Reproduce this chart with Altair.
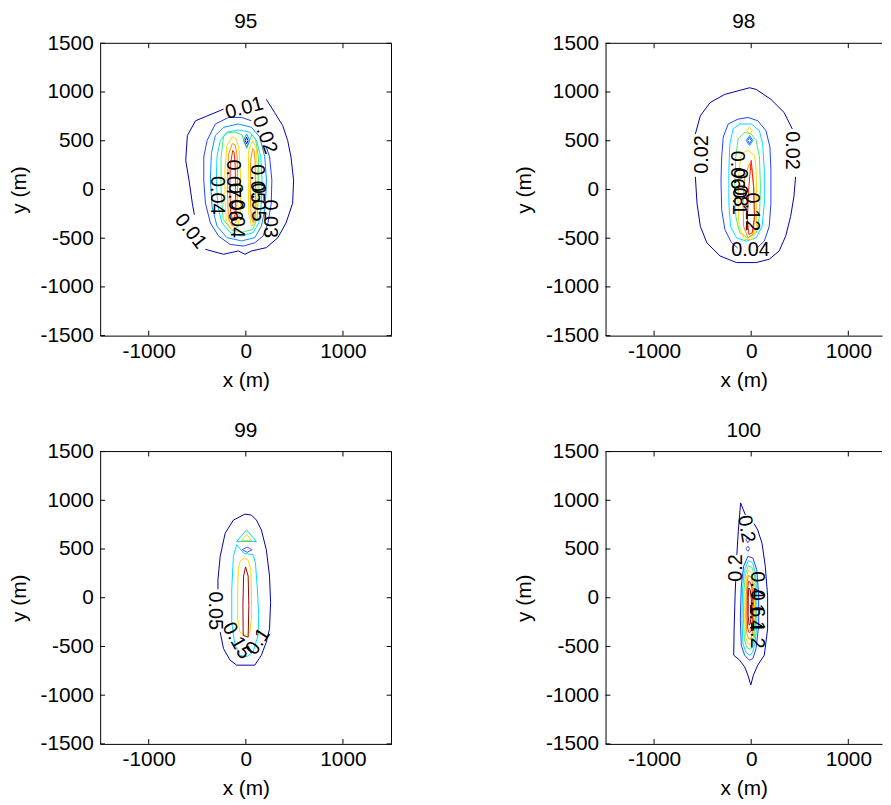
import altair as alt
import pandas as pd

FONT = "Liberation Sans"

# ---------------- axes ----------------
X_TICKS = [-1000, 0, 1000]
Y_TICKS = [-1500, -1000, -500, 0, 500, 1000, 1500]
TITLES = ["95", "98", "99", "100"]

# ---------------- colours (jet-like) ----------------
DB, B, LB, C, G, Y, O, R, DR = ("#0000a8", "#2040ff", "#0090ff", "#00dcff",
                                 "#40f070", "#ffd800", "#ff8c00", "#ff2000", "#a00000")

# ---------------- panel 95 (levels 0.01 ... 0.08) ----------------
P95_CONTOURS = [
    (DB, False, [(-230, 824), (-518, 705), (-602, 553), (-619, 299), (-585, 96), (-551, -141), (-530, -260)]),
    (DB, False, [(-416, -614), (-230, -665), (-77, -631), (-9, -665), (58, -631), (211, -597), (329, -496),
                 (414, -344), (482, -141), (492, 96), (465, 333), (431, 502), (380, 655), (296, 790), (211, 925)]),
    (B, False, [(211, 435), (245, 333), (268, 96), (262, -141), (228, -344), (177, -479), (92, -547),
                (-26, -581), (-162, -564), (-280, -479), (-365, -344), (-416, -141), (-433, 96), (-433, 333),
                (-399, 502), (-314, 672), (-179, 739), (-43, 739), (58, 705)]),
    (LB, True, [(-229, 638), (-314, 554), (-355, 368), (-365, 98), (-348, -173), (-297, -376), (-195, -494),
                (-43, -528), (93, -494), (161, -376), (201, -173), (212, 98), (195, 334), (144, 537), (59, 638),
                (-77, 672)]),
    (C, True, [(-195, 588), (-263, 503), (-297, 334), (-304, 98), (-287, -173), (-246, -342), (-161, -443),
               (-43, -477), (76, -443), (134, -342), (161, -139), (167, 98), (154, 334), (110, 503), (42, 588),
               (-77, 611)]),
    (G, True, [(-230, 540), (-255, 330), (-255, 0), (-235, -300), (-150, -410), (-40, -440), (70, -410),
               (115, -300), (135, 0), (130, 330), (100, 520), (60, 560), (10, 420), (-40, 560), (-110, 590),
               (-190, 580)]),
    (Y, True, [(-140, 540), (-195, 450), (-215, 200), (-215, -100), (-200, -330), (-140, -420), (-80, -380),
               (-55, -200), (-55, 150), (-70, 420), (-100, 520)]),
    (Y, True, [(70, 500), (30, 400), (25, 100), (30, -250), (60, -380), (95, -330), (115, -100), (118, 200),
               (110, 420)]),
    (O, True, [(-140, 470), (-180, 350), (-190, 0), (-180, -300), (-140, -380), (-100, -330), (-85, 0),
               (-90, 350), (-110, 460)]),
    (O, True, [(70, 420), (50, 300), (45, 0), (55, -280), (75, -340), (95, -260), (100, 0), (95, 300), (85, 400)]),
    (R, True, [(-135, 400), (-160, 250), (-165, 0), (-155, -250), (-130, -320), (-110, -250), (-105, 0),
               (-110, 250), (-120, 380)]),
    (LB, True, [(8, 570), (40, 502), (8, 434), (-24, 502)]),
    (DB, True, [(8, 535), (22, 502), (8, 469), (-6, 502)]),
]
P95_LABELS = [
    ("0.01", -16, 834, 345), ("0.01", -568, -428, 52), ("0.02", 194, 560, 70), ("0.03", 245, -300, 90),
    ("0.04", -300, -60, 90), ("0.04", -95, -300, 90), ("0.07", -135, 110, 90), ("0.06", -110, -130, 90),
    ("0.05", 115, 60, 90), ("0.05", 120, -130, 90),
]

# ---------------- panel 98 (levels 0.02 ... 0.14) ----------------
P98_CONTOURS = [
    (DB, False, [(423, 621), (339, 790), (203, 925), (51, 1027), (-17, 1044), (-271, 976), (-423, 892),
                 (-524, 756), (-575, 570)]),
    (DB, False, [(-575, 130), (-558, -141), (-524, -378), (-457, -547), (-321, -682), (-152, -750), (51, -750),
                 (186, -716), (288, -631), (355, -479), (406, -276), (440, -73), (457, 130)]),
    (B, False, [(60, -600), (135, -530), (186, -378), (203, -141), (203, 198), (193, 435), (152, 604), (68, 705),
                (-34, 739), (-135, 722), (-237, 672), (-288, 536), (-304, 333), (-311, 96), (-304, -208),
                (-271, -411), (-203, -547), (-140, -600)]),
    (C, True, [(-118, 672), (-186, 621), (-220, 468), (-230, 198), (-230, -141), (-213, -378), (-152, -496),
               (-51, -530), (51, -496), (112, -378), (135, -141), (135, 198), (118, 468), (84, 604), (0, 672)]),
    (G, True, [(-68, 587), (-135, 519), (-159, 333), (-169, 28), (-159, -276), (-118, -445), (-34, -496),
               (51, -445), (85, -276), (95, 28), (85, 333), (51, 502), (0, 570)]),
    (Y, True, [(-34, 401), (-101, 367), (-125, 198), (-135, -141), (-125, -378), (-68, -513), (17, -513),
               (51, -378), (58, -141), (51, 198), (34, 350)]),
    (Y, True, [(-17, 640), (10, 604), (-17, 570), (-44, 604)]),
    (O, True, [(-17, 266), (-68, 130), (-84, -141), (-78, -378), (-34, -496), (17, -462), (34, -310), (27, 28),
               (10, 198)]),
    (R, True, [(0, 299), (-24, 28), (-40, -310), (-24, -462), (10, -445), (34, -276), (24, 28)]),
    (LB, True, [(-17, 552), (18, 502), (-17, 452), (-52, 502)]),
    (B, True, [(-17, 532), (3, 502), (-17, 472), (-37, 502)]),
]
P98_LABELS = [
    ("0.02", -507, 360, 270), ("0.02", 423, 400, 90), ("0.04", -8, -621, 0), ("0.06", -150, 200, 90),
    ("0.08", -120, 20, 90), ("0.1", -130, -120, 90), ("0.12", 10, -230, 90),
]

# ---------------- panel 99 (levels 0.05 ... 0.2) ----------------
P99_CONTOURS = [
    (DB, False, [(-287, 87), (-287, 188), (-264, 425), (-213, 662), (-128, 797), (-10, 858), (58, 848),
                 (109, 797), (160, 696), (211, 493), (244, 222), (255, -49), (244, -319), (211, -455),
                 (160, -590), (92, -692), (-94, -692), (-162, -641), (-230, -522), (-264, -353)]),
    (C, True, [(-94, 544), (-128, 425), (-145, 87), (-145, -252), (-111, -488), (-60, -590), (7, -607),
               (75, -556), (126, -387), (133, -184), (119, 87), (99, 358), (75, 442), (-20, 455)]),
    (C, True, [(7, 696), (109, 577), (-94, 577)]),
    (Y, True, [(7, 652), (58, 588), (-43, 588)]),
    ("#5050ff", True, [(14, 520), (65, 493), (14, 466), (-37, 493)]),
    (Y, True, [(-16, 408), (-60, 374), (-77, 290), (-84, 87), (-84, -218), (-60, -353), (-10, -387),
               (41, -353), (58, -218), (58, 87), (51, 290), (24, 385)]),
    (DR, True, [(-3, 317), (-23, 222), (-30, -82), (-27, -387), (24, -404), (31, -82), (24, 222)]),
]
P99_LABELS = [("0.05", -323, -133, 90), ("0.15", -95, -440, 61), ("0.1", 125, -450, 304)]

# ---------------- panel 100 (levels 0.2 ... 1.6) ----------------
P100_CONTOURS = [
    (DB, False, [(-60, 850), (-109, 973), (-132, 695), (-148, 440)]),
    (DB, False, [(-160, 170), (-166, 19), (-176, -320), (-180, -590), (-119, -641), (-68, -709), (-34, -794),
                 (-4, -895), (23, -794), (67, -692), (135, -590), (169, -320), (169, 19), (145, 323),
                 (111, 560), (67, 695), (30, 760)]),
    ("#5050ff", True, [(-34, 625), (-15, 594), (-34, 563), (-53, 594)]),
    ("#5050ff", True, [(-34, 530), (-15, 503), (-34, 476), (-53, 503)]),
    (B, True, [(-34, 425), (-78, 323), (-102, 120), (-112, -218), (-102, -489), (-68, -590), (-17, -641),
               (17, -624), (50, -523), (77, -286), (77, 19), (57, 289), (17, 408)]),
    (C, True, [(-30, 380), (-70, 280), (-88, 100), (-95, -220), (-85, -470), (-55, -560), (-15, -590),
               (15, -560), (40, -460), (58, -280), (58, 0), (45, 250), (15, 360)]),
    (G, True, [(-30, 330), (-58, 240), (-75, 80), (-80, -220), (-70, -430), (-45, -510), (-10, -530),
               (15, -500), (32, -420), (45, -260), (45, 0), (35, 220), (10, 310)]),
    (Y, True, [(-30, 280), (-48, 200), (-62, 60), (-66, -220), (-58, -400), (-35, -470), (-8, -480),
               (12, -450), (25, -380), (33, -240), (33, 0), (25, 180), (5, 260)]),
    (O, True, [(-30, 230), (-42, 150), (-50, 30), (-54, -200), (-46, -360), (-28, -420), (-8, -425),
               (8, -390), (18, -330), (24, -200), (24, 0), (15, 140), (0, 210)]),
    (R, True, [(-28, 170), (-36, 90), (-40, -30), (-42, -200), (-35, -320), (-20, -360), (-6, -350),
               (6, -300), (14, -200), (15, -40), (8, 100), (-10, 160)]),
    (DR, True, [(-25, 100), (-30, 0), (-32, -180), (-22, -280), (-10, -270), (0, -180), (2, -20), (-10, 80)]),
]
P100_LABELS = [
    ("0.2", -51, 704, 80), ("0.2", -160, 306, 270), ("0.4", 55, 130, 90), ("0.6", 55, -60, 90),
    ("1.4", 45, -200, 90), ("1.2", 55, -380, 90),
]

TICK_LEN = 50  # data units (~5 px)
LABEL_EXPR = "'' + datum.value"
AXIS_FS = 21


def contour_frame(contours):
    rows = []
    for cid, (color, closed, pts) in enumerate(contours):
        seq = list(pts) + ([pts[0]] if closed else [])
        for i, (x, y) in enumerate(seq):
            rows.append({"cid": cid, "i": i, "x": x, "y": y, "color": color})
    return pd.DataFrame(rows)


def panel(title, contours, labels, xmax, right_side, width):
    xs = alt.Scale(domain=[-1500, xmax], nice=False, zero=False)
    ys = alt.Scale(domain=[-1500, 1500], nice=False, zero=False)
    xax = alt.Axis(values=X_TICKS, title="x (m)", ticks=False, tickSize=0, grid=False, domain=True,
                   domainColor="black", labelPadding=5, titlePadding=8, labelFlush=False,
                   labelOverlap=False, labelExpr=LABEL_EXPR)
    yax = alt.Axis(values=Y_TICKS, title="y (m)", ticks=False, tickSize=0, grid=False, domain=True,
                   domainColor="black", labelPadding=7, titlePadding=11, labelFlush=False,
                   labelOverlap=False, labelExpr=LABEL_EXPR)

    def X(f):
        return alt.X(f, type="quantitative", scale=xs, axis=xax)

    def Yc(f):
        return alt.Y(f, type="quantitative", scale=ys, axis=yax)

    lines = alt.Chart(contour_frame(contours)).mark_line(strokeWidth=1, clip=True).encode(
        x=X("x"), y=Yc("y"), detail="cid:N", order="i:Q", color=alt.Color("color:N", scale=None))

    ldf = pd.DataFrame(labels, columns=["t", "x", "y", "a"])
    text = alt.Chart(ldf).mark_text(font=FONT, fontSize=20, color="black").encode(
        x=X("x"), y=Yc("y"), text="t:N", angle=alt.Angle("a:Q", scale=None))

    hrows = [{"x": -1500, "x2": xmax, "y": 1500}]
    for v in Y_TICKS:
        hrows.append({"x": -1500, "x2": -1500 + TICK_LEN, "y": v})
        if right_side:
            hrows.append({"x": 1500 - TICK_LEN, "x2": 1500, "y": v})
    vrows = []
    if right_side:
        vrows.append({"x": 1500, "y": -1500, "y2": 1500})
    for v in X_TICKS:
        vrows.append({"x": v, "y": -1500, "y2": -1500 + TICK_LEN})
        vrows.append({"x": v, "y": 1500 - TICK_LEN, "y2": 1500})

    hr = alt.Chart(pd.DataFrame(hrows)).mark_rule(color="black", strokeWidth=1).encode(
        x=X("x"), x2="x2:Q", y=Yc("y"))
    vr = alt.Chart(pd.DataFrame(vrows)).mark_rule(color="black", strokeWidth=1).encode(
        x=X("x"), y=Yc("y"), y2="y2:Q")

    return alt.layer(lines, text, hr, vr).properties(
        width=width, height=295,
        title=alt.Title(title, frame="group", offset=0))


XMAX_RIGHT = 1347  # right panels are cut by the picture edge

top = alt.hconcat(panel(TITLES[0], P95_CONTOURS, P95_LABELS, 1500, True, 294),
                  panel(TITLES[1], P98_CONTOURS, P98_LABELS, XMAX_RIGHT, False, 279), spacing=122)
bottom = alt.hconcat(panel(TITLES[2], P99_CONTOURS, P99_LABELS, 1500, True, 294),
                     panel(TITLES[3], P100_CONTOURS, P100_LABELS, XMAX_RIGHT, False, 279), spacing=122)

chart = alt.vconcat(top, bottom, spacing=30).properties(
    padding={"left": 0, "top": 0, "right": 0, "bottom": 0}
).configure_view(stroke=None).configure_axis(
    labelFont=FONT, labelFontSize=AXIS_FS, labelColor="black", titleFont=FONT, titleFontSize=AXIS_FS,
    titleFontWeight="normal", titleColor="black", domainWidth=1
).configure_title(font=FONT, fontSize=AXIS_FS, fontWeight="normal", color="black", anchor="middle")

chart.save("out.html", embed_options={"renderer": "svg", "actions": False})
